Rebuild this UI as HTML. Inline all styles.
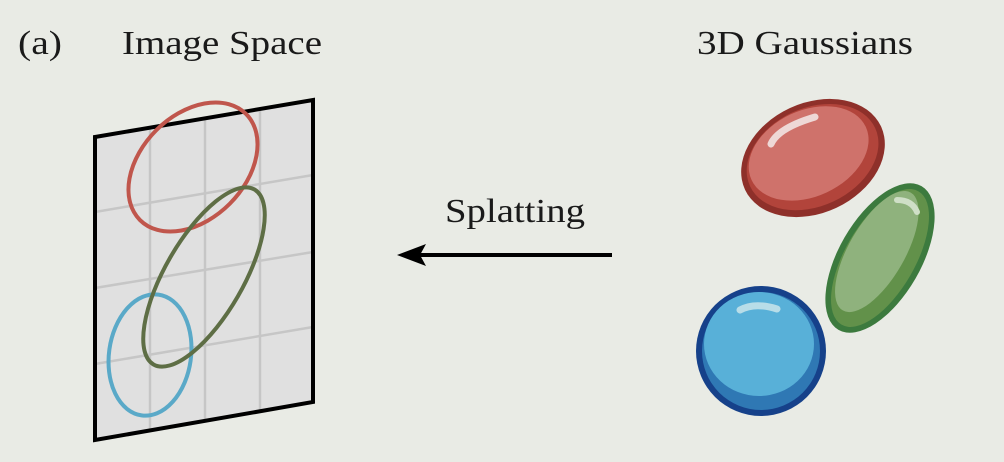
<!DOCTYPE html>
<html><head><meta charset="utf-8"><style>
html,body{margin:0;padding:0;background:#e9ebe5;}
svg{display:block;}
text{font-family:"Liberation Serif",serif;fill:#1a1a1a;}
</style></head><body>
<svg width="1004" height="462" viewBox="0 0 1004 462">
<rect width="1004" height="462" fill="#e9ebe5"/>
<text x="18" y="54" font-size="34" textLength="44" lengthAdjust="spacingAndGlyphs">(a)</text>
<text x="122" y="54" font-size="34" textLength="200" lengthAdjust="spacingAndGlyphs">Image Space</text>
<text x="697" y="54" font-size="34" textLength="216" lengthAdjust="spacingAndGlyphs">3D Gaussians</text>
<text x="445" y="222" font-size="34" textLength="140" lengthAdjust="spacingAndGlyphs">Splatting</text>

<g>
<polygon points="95,137 313,100 313,402 95,440" fill="#e0e0e0"/>
<g stroke="#c6c6c6" stroke-width="2.5">
<line x1="150" y1="128" x2="150" y2="431"/>
<line x1="205" y1="118" x2="205" y2="421"/>
<line x1="260" y1="109" x2="260" y2="412"/>
<line x1="95" y1="212" x2="313" y2="175"/>
<line x1="95" y1="288" x2="313" y2="252"/>
<line x1="95" y1="364" x2="313" y2="327"/>
</g>
<polygon points="95,137 313,100 313,402 95,440" fill="none" stroke="#000" stroke-width="4"/>
</g>
<ellipse cx="193" cy="167" rx="75" ry="52" transform="rotate(-45 193 167)" fill="none" stroke="#c0564c" stroke-width="4"/>
<ellipse cx="150" cy="355" rx="41" ry="61" transform="rotate(8 150 355)" fill="none" stroke="#5aa9c8" stroke-width="4"/>
<ellipse cx="204" cy="277" rx="101" ry="39" transform="rotate(-60 204 277)" fill="none" stroke="#5e6e45" stroke-width="4"/>

<g>
<line x1="612" y1="255" x2="420" y2="255" stroke="#000" stroke-width="4"/>
<polygon points="397,255 426,244 420,255 426,266" fill="#000"/>
</g>

<g>
<g transform="rotate(-25 813 158)">
<ellipse cx="813" cy="158" rx="75" ry="55" fill="#8e302a"/>
<ellipse cx="813" cy="157" rx="69" ry="49" fill="#b2443b"/>
<ellipse cx="811" cy="152" rx="63" ry="43" fill="#cf726b"/>
</g>
<path d="M771,144 Q778,128 815,117" stroke="#eed8d6" stroke-width="7" stroke-linecap="round" fill="none"/>
</g>
<g>
<g transform="rotate(-60 880 258)">
<ellipse cx="880" cy="258" rx="83" ry="41" fill="#3c7a3e"/>
<ellipse cx="880" cy="258" rx="77" ry="35" fill="#62914a"/>
<ellipse cx="884" cy="252" rx="68" ry="28" fill="#8fb27d"/>
</g>
<path d="M897,200 Q912,200 917,212" stroke="#cfdfc7" stroke-width="6" stroke-linecap="round" fill="none"/>
</g>
<g>
<circle cx="761" cy="351" r="65" fill="#16418a"/>
<circle cx="761" cy="351" r="59" fill="#2f78b4"/>
<ellipse cx="759" cy="344" rx="55" ry="52" fill="#58b0d8"/>
<path d="M740,310 Q755,302 777,309" stroke="#b8dde8" stroke-width="7" stroke-linecap="round" fill="none"/>
</g>
</svg>
</body></html>
